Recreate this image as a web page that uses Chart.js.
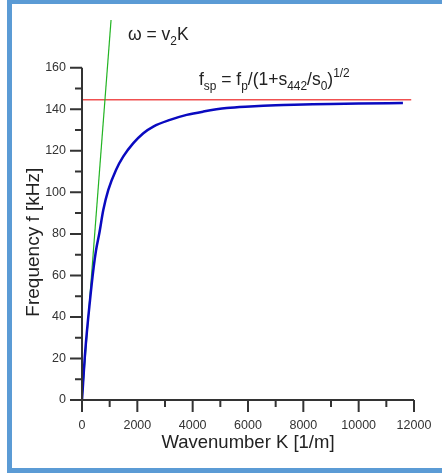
<!DOCTYPE html>
<html>
<head>
<meta charset="utf-8">
<script src="https://cdn.jsdelivr.net/npm/chart.js@4.4.1/dist/chart.umd.min.js"></script>
<style>
  html, body { margin: 0; padding: 0; background: #fff; overflow: hidden; }
  canvas { display: block; }
</style>
</head>
<body>
<canvas id="chart" width="442" height="474"></canvas>
<script>
// values
const curveK = [0, 120, 289, 422, 506, 626, 771, 951, 1229, 1494, 1855, 2217, 2578, 3180, 3783, 4386, 5229, 6072, 7000, 8000, 9000, 10000, 11600];
const curveF = [0, 24, 48, 64, 72, 80.3, 91.6, 101.2, 110.8, 117.3, 123.7, 128.5, 131.7, 134.9, 137.3, 138.9, 140.6, 141.4, 142, 142.3, 142.6, 142.8, 143];
const lineK = [0, 1050];
const lineF = [0, 183];
const limitK = [0, 11900];
const limitF = [144.6, 144.6];

const xTicks = [0, 2000, 4000, 6000, 8000, 10000, 12000];
const xMinor = [1000, 3000, 5000, 7000, 9000, 11000];
const yTicks = [0, 20, 40, 60, 80, 100, 120, 140, 160];
const yMinor = [10, 30, 50, 70, 90, 110, 130, 150];

const FONT = '"Liberation Sans", Arial, sans-serif';

function toPoints(xs, ys) {
    return xs.map((x, i) => ({ x: x, y: ys[i] }));
}

// draw a string made of normal / sub / sup pieces
function richText(ctx, x, y, parts, size) {
    let cx = x;
    parts.forEach(p => {
        let s = size, dy = 0;
        if (p.sub) { s = size * 0.68; dy = size * 0.3; }
        if (p.sup) { s = size * 0.68; dy = -size * 0.42; }
        ctx.font = s + 'px ' + FONT;
        ctx.fillText(p.t, cx, y + dy);
        cx += ctx.measureText(p.t).width;
    });
}

const axesPlugin = {
    id: 'axesPlugin',
    afterDraw(chart) {
        const ctx = chart.ctx;
        const xs = chart.scales.x, ys = chart.scales.y;
        const x0 = xs.getPixelForValue(0);
        const y0 = ys.getPixelForValue(0);
        ctx.save();
        ctx.strokeStyle = '#333';
        ctx.lineWidth = 2;
        ctx.beginPath();
        ctx.moveTo(x0, y0);
        ctx.lineTo(x0, ys.getPixelForValue(160));
        ctx.moveTo(x0 - 1, y0);
        ctx.lineTo(xs.getPixelForValue(12000), y0);
        yTicks.forEach(v => { const p = ys.getPixelForValue(v); ctx.moveTo(x0 - 12, p); ctx.lineTo(x0, p); });
        yMinor.forEach(v => { const p = ys.getPixelForValue(v); ctx.moveTo(x0 - 7, p); ctx.lineTo(x0, p); });
        xTicks.forEach(v => { const p = xs.getPixelForValue(v); ctx.moveTo(p, y0); ctx.lineTo(p, y0 + 12); });
        xMinor.forEach(v => { const p = xs.getPixelForValue(v); ctx.moveTo(p, y0); ctx.lineTo(p, y0 + 7); });
        ctx.stroke();

        ctx.fillStyle = '#222';
        ctx.textBaseline = 'alphabetic';
        ctx.textAlign = 'left';
        richText(ctx, xs.getPixelForValue(1663), ys.getPixelForValue(173.5),
            [{ t: '\u03c9 = v' }, { t: '2', sub: true }, { t: 'K' }], 17.5);
        richText(ctx, xs.getPixelForValue(4229), ys.getPixelForValue(151.8),
            [{ t: 'f' }, { t: 'sp', sub: true }, { t: ' = f' }, { t: 'p', sub: true },
             { t: '/(1+s' }, { t: '442', sub: true }, { t: '/s' }, { t: '0', sub: true },
             { t: ')' }, { t: '1/2', sup: true }], 17.5);

        // y axis title
        ctx.save();
        ctx.translate(34, ys.getPixelForValue(76));
        ctx.rotate(-Math.PI / 2);
        ctx.textAlign = 'center';
        ctx.textBaseline = 'middle';
        ctx.font = '19px ' + FONT;
        ctx.fillText('Frequency f [kHz]', 0, 0);
        ctx.restore();

        // blue frame: left, top, bottom only
        ctx.fillStyle = '#5b9bd5';
        ctx.fillRect(7, 0, 5, 473);
        ctx.fillRect(7, 0, chart.width - 7, 4);
        ctx.fillRect(7, 468, chart.width - 7, 5);
        ctx.restore();
    }
};

new Chart(document.getElementById('chart'), {
    type: 'scatter',
    data: {
        datasets: [
            { data: toPoints(curveK, curveF), showLine: true, borderColor: '#0a0ac0', borderWidth: 2.5, pointRadius: 0, cubicInterpolationMode: 'monotone', order: 0 },
            { data: toPoints(lineK, lineF), showLine: true, borderColor: '#22b422', borderWidth: 1.2, pointRadius: 0, order: 1 },
            { data: toPoints(limitK, limitF), showLine: true, borderColor: '#f05050', borderWidth: 1.5, pointRadius: 0, order: 2 }
        ]
    },
    options: {
        responsive: false,
        animation: false,
        layout: { padding: { left: 0, top: 20, right: 28, bottom: 0 } },
        plugins: { legend: { display: false }, tooltip: { enabled: false } },
        scales: {
            x: {
                type: 'linear', min: 0, max: 12000,
                afterBuildTicks: s => { s.ticks = xTicks.map(v => ({ value: v })); },
                afterFit: s => { s.height = 74; },
                grid: { display: false },
                border: { display: false },
                ticks: { padding: 10, color: '#333', font: { family: FONT, size: 12.5 }, callback: v => String(v) },
                title: { display: true, text: 'Wavenumber K [1/m]', color: '#222', font: { family: FONT, size: 18.5 }, padding: { top: 0, bottom: 20 } }
            },
            y: {
                type: 'linear', min: 0, max: 183,
                afterBuildTicks: s => { s.ticks = yTicks.map(v => ({ value: v })); },
                afterFit: s => { s.width = 82; },
                grid: { display: false },
                border: { display: false },
                ticks: { padding: 8, color: '#333', font: { family: FONT, size: 12.5 } }
            }
        }
    },
    plugins: [axesPlugin]
});
</script>
</body>
</html>
